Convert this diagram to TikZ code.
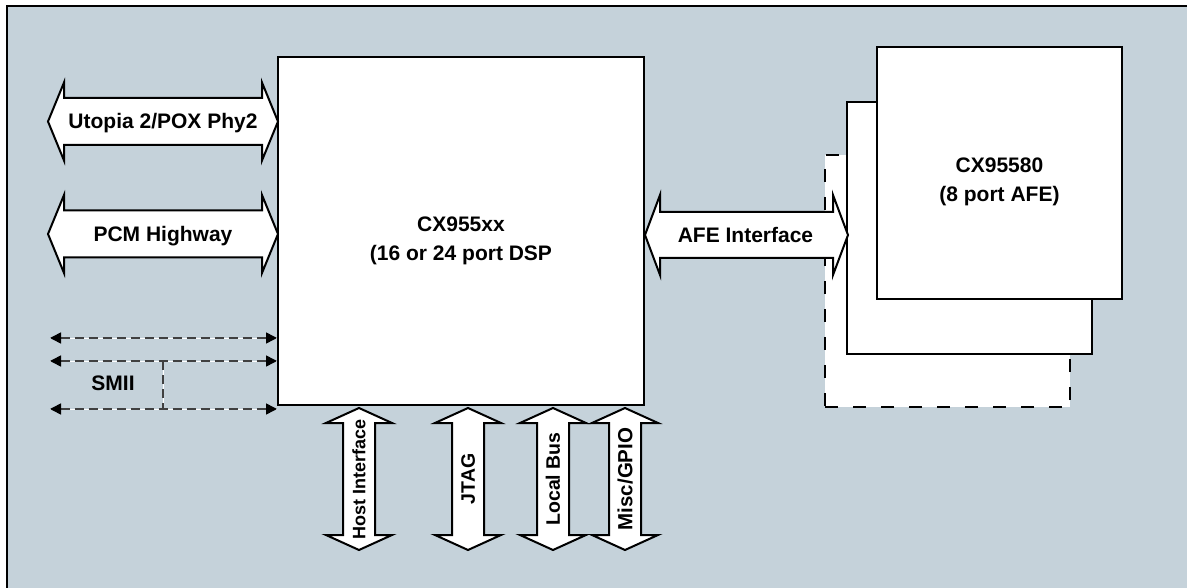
\documentclass[tikz,border=0pt]{standalone}
\usepackage{fontspec}
\setmainfont{Liberation Sans}
\usetikzlibrary{arrows.meta}

\definecolor{panel}{RGB}{197,210,218}
\definecolor{dashgray}{RGB}{64,64,64}

\begin{document}
\begin{tikzpicture}[x=1pt, y=-1pt,
  chip/.style={draw, line width=2pt, fill=white, inner sep=0pt},
  afebox/.style={chip, minimum width=245pt, minimum height=252pt},
  fat/.style={draw, line width=2pt, fill=white, line join=miter},
  lbl/.style={font=\bfseries\fontsize{21}{29}\selectfont, text height=15pt, text depth=0pt, inner sep=0pt},
  mlbl/.style={font=\bfseries\fontsize{21}{29}\selectfont, align=center, inner sep=0pt},
  smii/.style={draw=dashgray, line width=1.6pt, dash pattern=on 9pt off 5pt, preaction={draw=white, solid, -}},
  smiitips/.style={{Triangle[length=11pt,width=11pt,color=black]}-{Triangle[length=11pt,width=11pt,color=black]}}]

\useasboundingbox (0,0) rectangle (1187,588);

% panel
\fill[panel] (7,6) rectangle (1187,588);
\draw[line width=2.5pt] (7,588) -- (7,6) -- (1187,6);

% DSP
\node[chip, minimum width=366pt, minimum height=348pt] (dsp) at (461,231) {};
\node[mlbl] (dsplbl) at (461,241) {CX955xx\\(16 or 24 port DSP};

% AFE stack
\node[afebox, dash pattern=on 13pt off 15pt] (afe3) at (947.5,281) {};
\node[afebox] (afe2) at (969.5,228) {};
\node[afebox] (afe1) at (999.5,173) {};
\node[mlbl] (afelbl) at (999.5,182) {CX95580\\(8 port AFE)};

% left buses
\coordinate (utoL) at (48,121.5);
\draw[fat] (utoL) -- ++(16,-39) -- ++(0,15.5) -- ++(198,0) -- ++(0,-15.5) -- ++(16,39)
  -- ++(-16,39) -- ++(0,-15.5) -- ++(-198,0) -- ++(0,15.5) -- cycle;
\node[lbl] (uto) at (163,121.5) {Utopia 2/POX Phy2};

\coordinate (pcmL) at (48,234);
\draw[fat] (pcmL) -- ++(16,-39) -- ++(0,15.5) -- ++(198,0) -- ++(0,-15.5) -- ++(16,39)
  -- ++(-16,39) -- ++(0,-15.5) -- ++(-198,0) -- ++(0,15.5) -- cycle;
\node[lbl] (pcm) at (163,234) {PCM Highway};

% AFE interface
\coordinate (afeL) at (dsp.east |- 0,235);
\draw[fat] (afeL) -- ++(15,-40) -- ++(0,17) -- ++(173,0) -- ++(0,-17) -- ++(15,40)
  -- ++(-15,40) -- ++(0,-17) -- ++(-173,0) -- ++(0,17) -- cycle;
\node[lbl] (afeif) at (745.5,235) {AFE Interface};

% SMII
\coordinate (s1) at (50,338);
\coordinate (s2) at (50,361);
\coordinate (s3) at (50,409);
\coordinate (sv) at (163,361);
\draw[smii] (sv) -- (163,409);
\draw[smii, smiitips] (s1) -- (dsp.west |- s1);
\draw[smii, smiitips] (s2) -- (dsp.west |- s2);
\draw[smii, smiitips] (s3) -- (dsp.west |- s3);
\node[lbl] (smiilbl) at (113,383) {SMII};

% bottom buses
\foreach \xc/\nm/\fs/\txt in {359/host/18/Host Interface, 468/jtag/19.5/JTAG, 553/lbus/19.5/Local Bus, 625/misc/20.5/{Misc/GPIO}} {
  \draw[fat] (\xc,408) -- ++(33,15) -- ++(-17,0) -- ++(0,112) -- ++(17,0) -- ++(-33,15)
    -- ++(-33,-15) -- ++(17,0) -- ++(0,-112) -- ++(-17,0) -- cycle;
  \pgfmathsetmacro\bx{\xc+0.358*\fs}
  \node[font=\bfseries\fontsize{\fs}{\fs}\selectfont, inner sep=0pt, anchor=base, rotate=90] (\nm) at (\bx,479) {\txt};
}

\end{tikzpicture}
\end{document}
